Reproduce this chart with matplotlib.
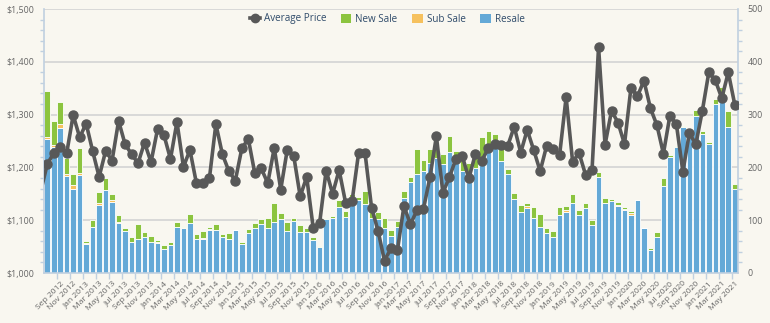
import matplotlib
matplotlib.use("Agg")
import matplotlib.pyplot as plt
import numpy as np
import pandas as pd
from matplotlib.lines import Line2D
from matplotlib.patches import Patch
from matplotlib.ticker import MultipleLocator, FuncFormatter, FixedLocator

plt.rcParams['font.family'] = ['Open Sans', 'DejaVu Sans']

# Monthly categories, Jul 2012 - May 2021
months = pd.date_range("2012-07-01", "2021-05-01", freq="MS")
month_labels = [d.strftime("%b %Y") for d in months]

resale = [
    254, 238, 275, 184, 159, 186, 55, 87, 129, 157,
    135, 95, 80, 59, 64, 69, 59, 57, 45, 53,
    88, 86, 95, 65, 64, 82, 82, 69, 64, 82,
    54, 76, 86, 93, 86, 97, 102, 80, 99, 78,
    77, 62, 50, 102, 105, 125, 107, 134, 139, 131,
    105, 102, 85, 70, 87, 142, 173, 187, 193, 209,
    218, 207, 229, 209, 193, 191, 198, 220, 245, 239,
    212, 188, 140, 116, 124, 105, 88, 76, 69, 110,
    116, 132, 109, 123, 90, 181, 132, 136, 127, 119,
    110, 138, 85, 44, 69, 165, 219, 238, 276, 255,
    297, 263, 244, 321, 328, 277, 159,
]

sub_sale = [
    4, 4, 8, 3, 7, 3, 1, 0, 4, 0,
    4, 1, 0, 0, 0, 0, 0, 1, 0, 0,
    0, 1, 0, 0, 3, 1, 0, 0, 0, 0,
    0, 0, 0, 0, 0, 0, 0, 0, 0, 0,
    0, 0, 0, 0, 0, 0, 0, 0, 0, 0,
    0, 0, 0, 0, 0, 0, 0, 0, 0, 0,
    0, 0, 0, 0, 0, 0, 0, 0, 0, 0,
    0, 0, 0, 0, 2, 0, 0, 0, 0, 0,
    3, 0, 0, 0, 0, 0, 1, 0, 2, 3,
    3, 0, 0, 0, 0, 0, 0, 0, 0, 0,
    0, 0, 0, 0, 0, 0, 0,
]

new_sale = [
    87, 46, 41, 31, 21, 47, 5, 13, 20, 22,
    10, 13, 5, 9, 28, 8, 11, 5, 8, 6,
    8, 2, 17, 8, 13, 5, 10, 5, 11, 0,
    5, 7, 9, 9, 19, 35, 11, 17, 6, 12,
    8, 6, 2, 2, 3, 13, 11, 16, 4, 24,
    11, 14, 19, 12, 12, 14, 9, 47, 21, 26,
    18, 18, 31, 22, 26, 18, 25, 38, 24, 25,
    27, 9, 12, 13, 6, 20, 24, 9, 11, 15,
    7, 17, 11, 9, 11, 10, 9, 5, 5, 3,
    4, 0, 0, 3, 8, 14, 5, 2, 2, 2,
    11, 5, 5, 9, 24, 30, 10,
]

avg_price = [
    1206, 1227, 1238, 1227, 1299, 1257, 1283, 1231, 1182, 1231,
    1213, 1288, 1244, 1225, 1208, 1247, 1210, 1272, 1261, 1216,
    1286, 1201, 1233, 1170, 1170, 1179, 1282, 1225, 1193, 1175,
    1236, 1254, 1189, 1198, 1170, 1237, 1158, 1233, 1222, 1145,
    1182, 1086, 1095, 1194, 1150, 1195, 1133, 1136, 1227, 1227,
    1124, 1080, 1023, 1047, 1044, 1127, 1092, 1119, 1121, 1181,
    1259, 1152, 1181, 1216, 1221, 1179, 1225, 1213, 1236, 1244,
    1242, 1241, 1277, 1228, 1271, 1233, 1193, 1241, 1235, 1224,
    1333, 1211, 1227, 1186, 1196, 1428, 1243, 1307, 1285, 1244,
    1351, 1335, 1364, 1312, 1280, 1226, 1298, 1282, 1192, 1265,
    1244, 1307, 1380, 1365, 1331, 1380, 1319,
]
# price for Jun 2012, just outside the plotted window
prior_price = 1155

BG = "#f9f7f0"
C_RESALE = "#64a9d7"
C_SUB = "#f6c15e"
C_NEW = "#8cc43f"
C_LINE = "#585858"
C_AXIS = "#c0d0e0"
C_TEXT = "#666666"

fig = plt.figure(figsize=(7.70, 3.23), dpi=100, facecolor=BG)
ax2 = fig.add_axes([44 / 770, 50 / 323, 694 / 770, 264 / 323])
ax = ax2.twinx()
ax.set_zorder(ax2.get_zorder() + 1)
ax.patch.set_visible(False)
ax2.set_facecolor(BG)

x = np.arange(len(months))
res = np.array(resale)
sub = np.array(sub_sale)
new = np.array(new_sale)

bw = 0.86
ax2.bar(x, res, width=bw, color=C_RESALE, edgecolor="white", linewidth=0.6, zorder=2)
ax2.bar(x, sub, width=bw, bottom=res, color=C_SUB, edgecolor="white", linewidth=0.6, zorder=2)
ax2.bar(x, new, width=bw, bottom=res + sub, color=C_NEW, edgecolor="white", linewidth=0.6, zorder=2)

# bars on the right scale, price line on the left scale
ax2.set_ylim(0, 500)
ax2.set_xlim(-0.5, len(months) - 0.5)
ax.set_ylim(1000, 1500)

px = np.concatenate([[-1], x])
py = np.concatenate([[prior_price], avg_price])
ax.plot(px, py, color=C_LINE, lw=2.6, marker="o", ms=6.5, mfc=C_LINE, mec=C_LINE,
        markevery=list(range(1, len(px))), zorder=5)
ax.set_xlim(-0.5, len(months) - 0.5)

# grid lines at every hundred
ax2.yaxis.set_major_locator(MultipleLocator(100))
ax2.yaxis.set_minor_locator(MultipleLocator(20))
ax2.grid(axis="y", which="major", color="#d6d6d6", lw=1.3, zorder=0)
ax2.set_axisbelow(True)

# the twin axes: price axis shows on the left, counts on the right
ax.yaxis.tick_left()
ax.yaxis.set_label_position("left")
ax2.yaxis.tick_right()
ax2.yaxis.set_label_position("right")

ax.yaxis.set_major_locator(MultipleLocator(100))
ax.yaxis.set_minor_locator(MultipleLocator(20))
ax.yaxis.set_major_formatter(FuncFormatter(lambda v, p: "${:,.0f}".format(v)))

for a in (ax, ax2):
    for s in a.spines.values():
        s.set_visible(False)

ax.spines["left"].set_visible(True)
ax.spines["left"].set_color(C_AXIS)
ax.spines["left"].set_linewidth(1.2)
ax2.spines["right"].set_visible(True)
ax2.spines["right"].set_color(C_AXIS)
ax2.spines["right"].set_linewidth(1.2)
ax2.spines["bottom"].set_visible(True)
ax2.spines["bottom"].set_color(C_AXIS)
ax2.spines["bottom"].set_linewidth(1.2)

ax.tick_params(axis="y", which="major", length=0, labelsize=6.4, labelcolor=C_TEXT, pad=7)
ax.tick_params(axis="y", which="minor", length=3, color=C_AXIS, width=1)
ax2.tick_params(axis="y", which="major", length=0, labelsize=6.4, labelcolor=C_TEXT, pad=7)
ax2.tick_params(axis="y", which="minor", length=3, color=C_AXIS, width=1)
ax.tick_params(axis="x", which="both", bottom=False, top=False, labelbottom=False)

# x labels on odd months, from Sep 2012 on
label_idx = [i for i, d in enumerate(months) if d.month % 2 == 1 and i >= 2]
ax2.xaxis.set_major_locator(FixedLocator(label_idx))
ax2.set_xticklabels([month_labels[i] for i in label_idx], rotation=45,
                    ha="right", rotation_mode="anchor", fontsize=6.1, color=C_TEXT)
ax2.xaxis.set_minor_locator(FixedLocator([i - 0.5 for i in label_idx]))
ax2.tick_params(axis="x", which="major", length=0, pad=5)
ax2.tick_params(axis="x", which="minor", length=4, color=C_AXIS, width=1)
for lbl in ax2.get_xticklabels():
    lbl.set_va("top")

handles = [
    Line2D([0], [0], color=C_LINE, lw=2.6, marker="o", ms=6, mfc=C_LINE, mec=C_LINE),
    Patch(facecolor=C_NEW, edgecolor="none"),
    Patch(facecolor=C_SUB, edgecolor="none"),
    Patch(facecolor=C_RESALE, edgecolor="none"),
]
leg = fig.legend(handles, ["Average Price", "New Sale", "Sub Sale", "Resale"],
                 loc="center", bbox_to_anchor=(387 / 770, 1 - 19 / 323), ncol=4,
                 frameon=False, fontsize=7.1, handlelength=1.05, handleheight=1.05,
                 columnspacing=1.5, handletextpad=0.4, borderaxespad=0)
for t in leg.get_texts():
    t.set_color("#2f4b6a")

fig.savefig("out.png", dpi=100, facecolor=BG)
